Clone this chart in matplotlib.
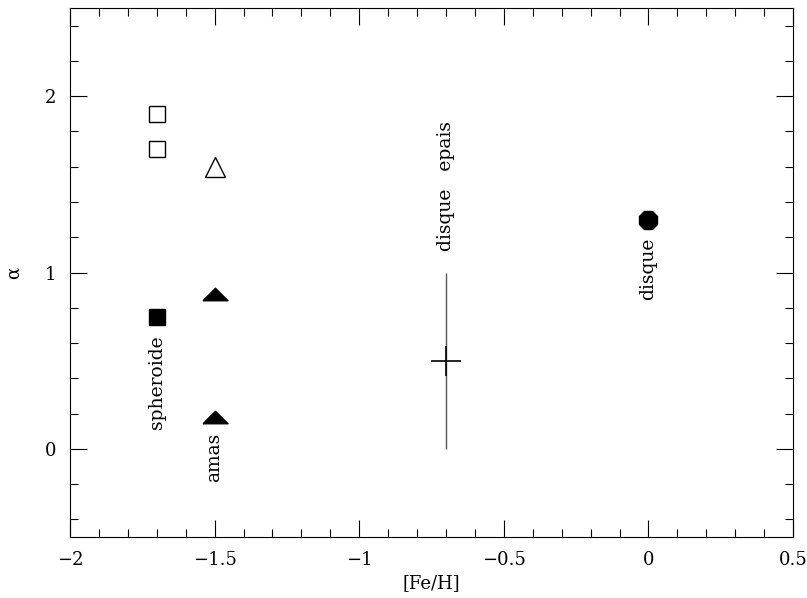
import matplotlib
matplotlib.use("Agg")
import matplotlib.pyplot as plt
from matplotlib.ticker import MultipleLocator, FuncFormatter

plt.rcParams['font.family'] = ['DejaVu Serif']

# data
open_sq_x = [-1.7, -1.7]
open_sq_y = [1.9, 1.7]
open_tri_x = [-1.5]
open_tri_y = [1.6]
fill_sq_x = [-1.7]
fill_sq_y = [0.75]
fill_tri_x = [-1.5, -1.5]
fill_tri_y = [0.88, 0.18]
thick_x = [-0.7]
thick_y = [0.5]
thick_err = [0.5]
disk_x = [0.0]
disk_y = [1.3]
labels = ["spheroide", "amas", "disque   epais", "disque"]
label_x = [-1.7, -1.5, -0.7, 0.0]
label_y = [0.38, -0.05, 1.49, 1.02]

fig = plt.figure(figsize=(8.07, 5.98), dpi=100)
ax = fig.add_axes([0.0867, 0.102, 0.8960, 0.8846])

ax.plot(open_sq_x, open_sq_y, 's', ms=11, mfc='white', mec='black', mew=1.0, ls='none')
ax.plot(open_tri_x, open_tri_y, '^', ms=15, mfc='white', mec='black', mew=1.0, ls='none')
ax.plot(fill_sq_x, fill_sq_y, 's', ms=12, mfc='black', mec='black', ls='none')
flat_tri = [(-1, -0.5), (1, -0.5), (0, 0.5), (-1, -0.5)]
ax.plot(fill_tri_x, fill_tri_y, marker=flat_tri, ms=18, mfc='black', mec='black', ls='none')
ax.errorbar(thick_x, thick_y, yerr=thick_err, fmt='+', ms=22, mew=1.2, color='black',
            ecolor='#555555', elinewidth=1.0, capsize=0)
ax.plot(disk_x, disk_y, '8', ms=14, mfc='black', mec='black', ls='none')

for t, x, y in zip(labels, label_x, label_y):
    ax.text(x, y, t, rotation=90, ha='center', va='center', fontsize=13.5)

ax.set_xlim(-2, 0.5)
ax.set_ylim(-0.5, 2.5)
ax.xaxis.set_major_locator(MultipleLocator(0.5))
ax.xaxis.set_minor_locator(MultipleLocator(0.1))
ax.yaxis.set_major_locator(MultipleLocator(1))
ax.yaxis.set_minor_locator(MultipleLocator(0.2))

def fmt(v, pos):
    s = ('%g' % v)
    if s == '-0':
        s = '0'
    return s.replace('-', '\u2212')
ax.xaxis.set_major_formatter(FuncFormatter(fmt))
ax.yaxis.set_major_formatter(FuncFormatter(fmt))

ax.tick_params(which='both', direction='in', top=True, right=True, labelsize=13, width=0.8)
ax.tick_params(which='major', length=12, pad=10)
ax.tick_params(which='minor', length=6)
for s in ax.spines.values():
    s.set_linewidth(0.8)

ax.set_xlabel('[Fe/H]', fontsize=13, labelpad=4)
ax.set_ylabel('\u03b1', fontsize=13, labelpad=16, rotation=90)

fig.savefig('out.png', dpi=100)
